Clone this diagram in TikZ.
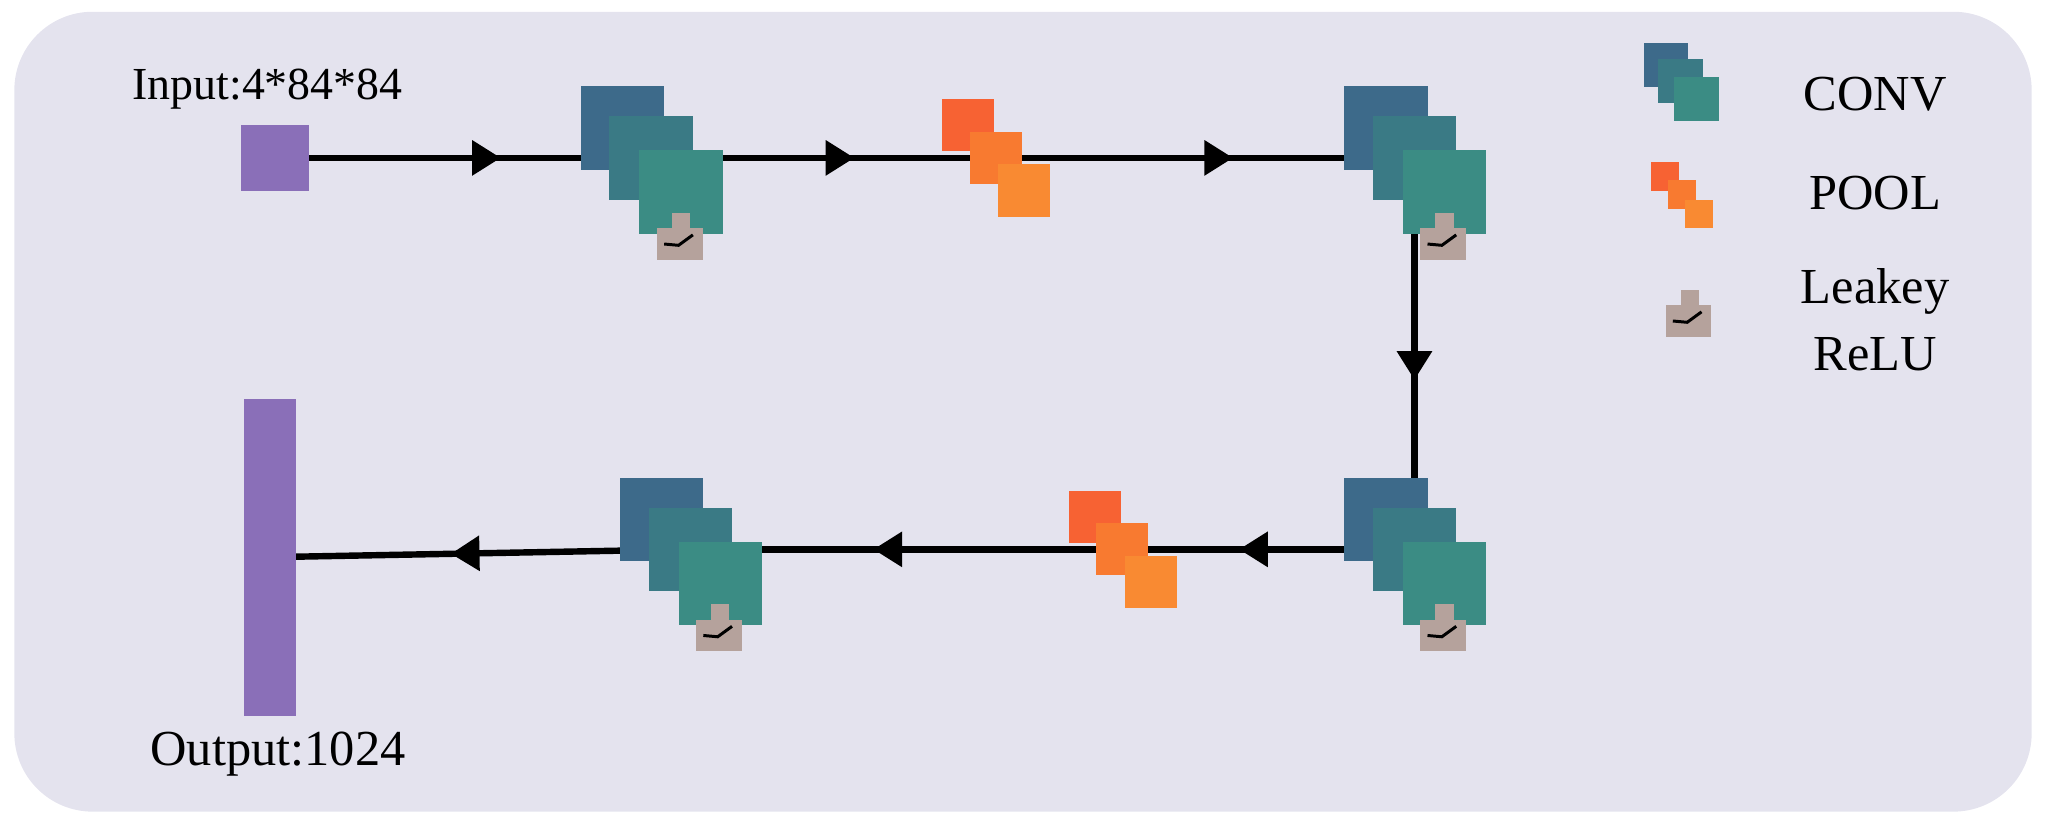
\documentclass[tikz,border=0pt]{standalone}
\usepackage{fontspec}
\setmainfont{Liberation Serif}
\usetikzlibrary{arrows.meta,decorations.markings,backgrounds}
\definecolor{bgc}{HTML}{E4E3EE}
\definecolor{cva}{HTML}{3D6A8A}
\definecolor{cvb}{HTML}{3A7A85}
\definecolor{cvc}{HTML}{3B8C84}
\definecolor{pla}{HTML}{F76233}
\definecolor{plb}{HTML}{F87A30}
\definecolor{plc}{HTML}{F98A32}
\definecolor{rlc}{HTML}{B5A29C}
\definecolor{ppl}{HTML}{8A6FB8}
\tikzset{
  sq/.style 2 args={rectangle,inner sep=0,draw=none,fill=#1,minimum size=#2*0.02cm},
  box/.style n args={3}{rectangle,inner sep=0,draw=none,fill=#1,minimum width=#2*0.02cm,minimum height=#3*0.02cm},
  conn/.style={line width=2.8pt,black,postaction={decorate},
    decoration={markings,mark=at position #1 with {\arrow{Triangle[length=0.44cm,width=0.52cm]}}}},
  lbl/.style={font=\fontsize{20}{23}\selectfont,inner sep=0,align=center},
  lgl/.style={font=\fontsize{22}{25}\selectfont,inner sep=0,align=center},
  pics/relu/.style={code={
    \node[box={rlc}{14}{14}] (-tab) at (1,-17) {};
    \node[box={rlc}{35}{24}] (-body) at (0,0) {};
    \draw[line width=1.3pt] (-12,0) -- (-1,1) -- (10,-7);
  }},
  pics/conv/.style={code={
    \node[sq={cva}{64}] (-a) at (-22,-23) {};
    \node[sq={cvb}{64}] (-b) at (0,0) {};
    \node[sq={cvc}{64}] (-c) at (23,26) {};
    \pic (-r) at (22,66) {relu};
  }},
  pics/pool/.style={code={
    \node[sq={pla}{40}] (-a) at (-21,-25) {};
    \node[sq={plb}{40}] (-b) at (0,0) {};
    \node[sq={plc}{40}] (-c) at (22,25) {};
  }}
}
\begin{document}
\begin{tikzpicture}[x=0.02cm,y=-0.02cm]
\useasboundingbox (0,0) rectangle (1568,633);
\node[box={ppl}{52}{50}] (in) at (211,121) {};
\node[box={ppl}{40}{243}] (out) at (207,427) {};
\pic (cv1) at (499,121) {conv};
\pic (pl1) at (763,121) {pool};
\pic (cv2) at (1084,121) {conv};
\pic (cv3) at (1084,421) {conv};
\pic (pl2) at (860,421) {pool};
\pic (cv4) at (529,421) {conv};
\begin{scope}[on background layer]
\fill[bgc,rounded corners=1.2cm] (11,9) rectangle (1557,622);
\draw[conn=0.6] (in.center) -- (cv1-b.center);
\draw[conn=0.59] (cv1-b.center) -- (pl1-b.center);
\draw[conn=0.567] (pl1-b.center) -- (cv2-b.center);
\draw[conn=0.567] (cv2-b.center) -- (cv3-b.center);
\draw[conn=0.6] (cv3-b.center) -- (pl2-b.center);
\draw[conn=0.576] (pl2-b.center) -- (cv4-b.center);
\draw[conn=0.57] (cv4-b.center) -- (out.center);
\end{scope}
\node[lbl] (tin) at (205,68) {Input:4*84*84};
\node[lbl,font=\fontsize{22}{25}\selectfont] (tout) at (213,578) {Output:1024};
% legend
\node[sq={cva}{34}] (lga) at (1277,50) {};
\node[sq={cvb}{34}] (lgb) at (1288,62) {};
\node[sq={cvc}{34}] (lgc) at (1300,76) {};
\node[sq={pla}{22}] (lpa) at (1276,135) {};
\node[sq={plb}{22}] (lpb) at (1289,149) {};
\node[sq={plc}{22}] (lpc) at (1302,164) {};
\pic (lr) at (1294,246) {relu};
\node[lgl] (tconv) at (1437,72) {CONV};
\node[lgl] (tpool) at (1437,148) {POOL};
\node[lgl] (trelu) at (1437,245) {Leakey\\[4pt]ReLU};
\end{tikzpicture}
\end{document}
